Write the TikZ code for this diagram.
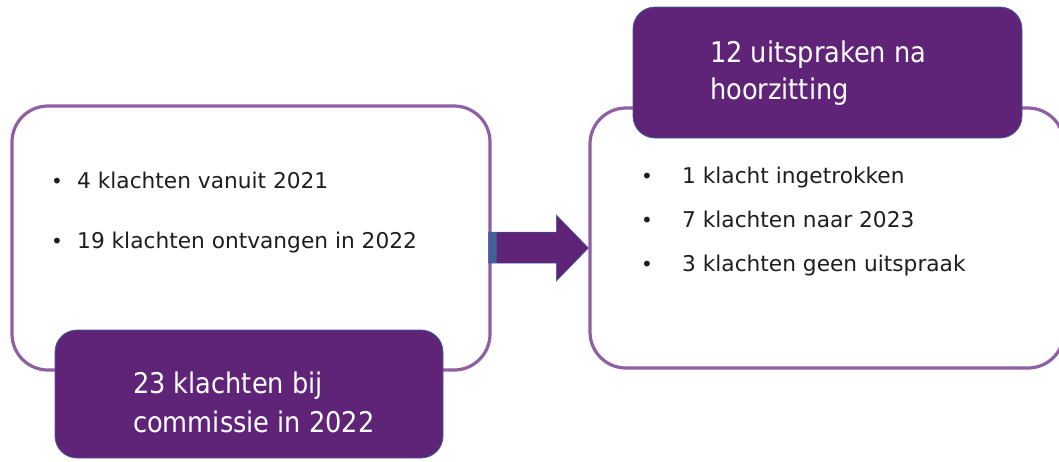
\documentclass[tikz,border=0pt]{standalone}
\usepackage{fontspec}
\setmainfont{DejaVu Sans}
\newfontfamily\labfont{DejaVu Sans Condensed}
\definecolor{pfill}{HTML}{5F2377}
\definecolor{pline}{HTML}{8E5FA2}
\definecolor{bline}{HTML}{41609A}
\definecolor{txt}{HTML}{1E1E1E}
\begin{document}
\begin{tikzpicture}[x=1pt,y=-1pt,
  wbox/.style={draw=pline,line width=3.2pt,fill=white,rounded corners=36pt,inner sep=0pt},
  pbox/.style={draw=bline,line width=0.8pt,fill=pfill,rounded corners=22pt,inner sep=0pt},
  btxt/.style={anchor=base west,inner sep=0pt,text=txt,font=\fontsize{21.7}{26}\selectfont},
  bdot/.style={anchor=base,inner sep=0pt,text=txt,font=\fontsize{20}{24}\selectfont},
  ltxt/.style={anchor=base west,inner sep=0pt,text=white,font=\labfont\fontsize{28.5}{34}\selectfont}]
\useasboundingbox (0,0) rectangle (1059,461);
\clip (0,0) rectangle (1059,461);
% left group
\node[wbox,minimum width=478pt,minimum height=264pt] (L) at (251,238) {};
\node[pbox,minimum width=388pt,minimum height=128pt] (LB) at (249,394) {};
\node[bdot] (ld1) at (57,188) {•};
\node[btxt] (lt1) at (77,188) {4 klachten vanuit 2021};
\node[bdot] (ld2) at (57,248) {•};
\node[btxt] (lt2) at (77,248) {19 klachten ontvangen in 2022};
\node[ltxt] (lb1) at (133,393) {23 klachten bij};
\node[ltxt] (lb2) at (133,432) {commissie in 2022};
% right group
\node[wbox,minimum width=474pt,minimum height=260pt] (R) at (827,238) {};
\node[pbox,minimum width=389pt,minimum height=131pt] (RT) at (827.5,72.5) {};
\node[ltxt] (rt1) at (710,62) {12 uitspraken na};
\node[ltxt] (rt2) at (710,99) {hoorzitting};
\node[bdot] (rd1) at (647,183) {•};
\node[btxt] (rx1) at (682,183) {1 klacht ingetrokken};
\node[bdot] (rd2) at (647,227) {•};
\node[btxt] (rx2) at (682,227) {7 klachten naar 2023};
\node[bdot] (rd3) at (647,271) {•};
\node[btxt] (rx3) at (682,271) {3 klachten geen uitspraak};
% arrow from L to R
\coordinate (AT) at (L.east |- 0,248);
\coordinate (AH) at (R.west |- 0,248);
\fill[pfill,draw=bline,line width=0.5pt]
  ([shift={(-3,-16)}]AT) -- ([shift={(-32,-16)}]AH) -- ([shift={(-32,-33)}]AH)
  -- (AH) -- ([shift={(-32,33)}]AH) -- ([shift={(-32,15)}]AH) -- ([shift={(-3,15)}]AT) -- cycle;
\fill[bline] ([shift={(-3,-16)}]AT) rectangle ([shift={(4,15)}]AT);
\draw[bline!70!pfill,line width=0.8pt] ([shift={(5,-16)}]AT) -- ([shift={(5,15)}]AT);
\end{tikzpicture}
\end{document}
